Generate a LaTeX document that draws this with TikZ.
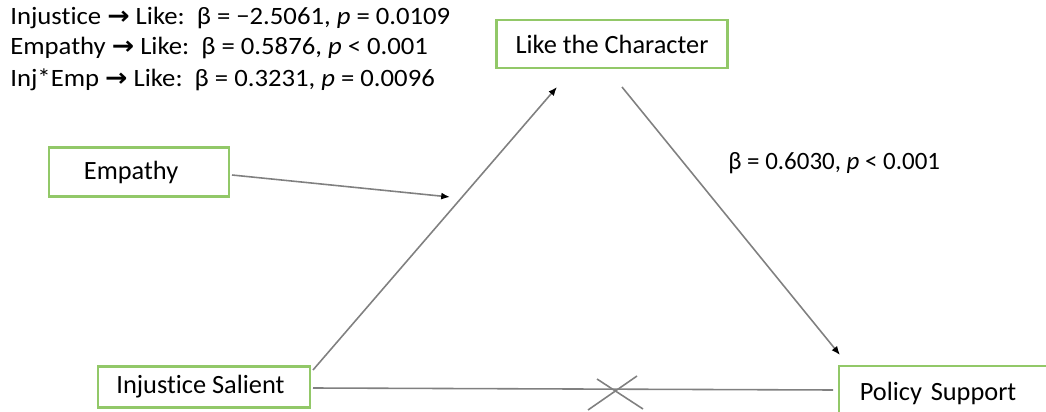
\documentclass[tikz,border=0pt]{standalone}
\usepackage{fontspec}
\setmainfont{Carlito}[Ligatures=NoCommon]
\newfontfamily\arrowfont{DejaVu Sans}
\usetikzlibrary{arrows.meta}
\definecolor{BoxClr}{RGB}{146,200,104}
\definecolor{LineClr}{RGB}{128,128,128}
\newcommand{\toarrow}{{\arrowfont\bfseries\char"2192}}
\newcommand{\wide}[1]{\scalebox{1.07}[1]{#1}}

\begin{document}
\begin{tikzpicture}[x=0.02cm,y=-0.02cm,
  varbox/.style={draw=BoxClr,line width=1.2pt,fill=white,inner sep=0pt,
    font=\fontsize{15}{18}\selectfont},
  path/.style={draw=LineClr,line width=0.9pt},
  effect/.style={path,-{Latex[black,length=5pt,width=4pt]}},
  stat/.style={anchor=west,inner sep=0pt,font=\fontsize{14.2}{17}\selectfont}]
\useasboundingbox (0,0) rectangle (1046,412);
\clip (0,0) rectangle (1046,412);

% variables
\node[varbox,minimum width=231*0.02cm,minimum height=48*0.02cm] (like) at (612,44) {Like the Character};
\node[varbox,minimum width=180*0.02cm,minimum height=49*0.02cm] (emp) at (139,172) {\hspace*{-9pt}Empathy};
\node[varbox,minimum width=212*0.02cm,minimum height=41*0.02cm] (inj) at (204,387) {\hspace*{-4pt}Injustice Salient};
\node[varbox,minimum width=240*0.02cm,minimum height=55*0.02cm,anchor=north west,
  text width=216*0.02cm,align=left] (pol) at (838,365) {\hspace*{5pt}\raisebox{-6pt}{Policy Support}};

% path ends
\coordinate (injA) at (313,370);
\coordinate (likeA) at (557,87);
\coordinate (likeB) at (622,87);
\coordinate (polA) at (840,355);
\coordinate (empA) at (232,175);
\coordinate (mod) at (450,197);
\coordinate (injB) at (313,388);
\coordinate (polB) at (833,390);

\draw[effect] (injA) -- (likeA);
\draw[effect] (likeB) -- (polA);
\draw[effect] (empA) -- (mod);
\draw[path] (injB) -- (polB);

% no direct effect
\coordinate (x1) at (588,410);
\coordinate (x2) at (637,376);
\coordinate (x3) at (597,379);
\coordinate (x4) at (643,409);
\draw[path] (x1) -- (x2) (x3) -- (x4);

% statistics
\node[stat] (s1) at (10,18) {\wide{Injustice \toarrow{} Like:\ \ β = −2.5061, \textit{p} = 0.0109}};
\node[stat] (s2) at (10,48) {\wide{Empathy \toarrow{} Like:\ \ β = 0.5876, \textit{p} < 0.001}};
\node[stat] (s3) at (10,80) {\wide{Inj*Emp \toarrow{} Like:\ \ β = 0.3231, \textit{p} = 0.0096}};
\node[stat] (s4) at (728,163) {β = 0.6030, \textit{p} < 0.001};

\end{tikzpicture}
\end{document}
